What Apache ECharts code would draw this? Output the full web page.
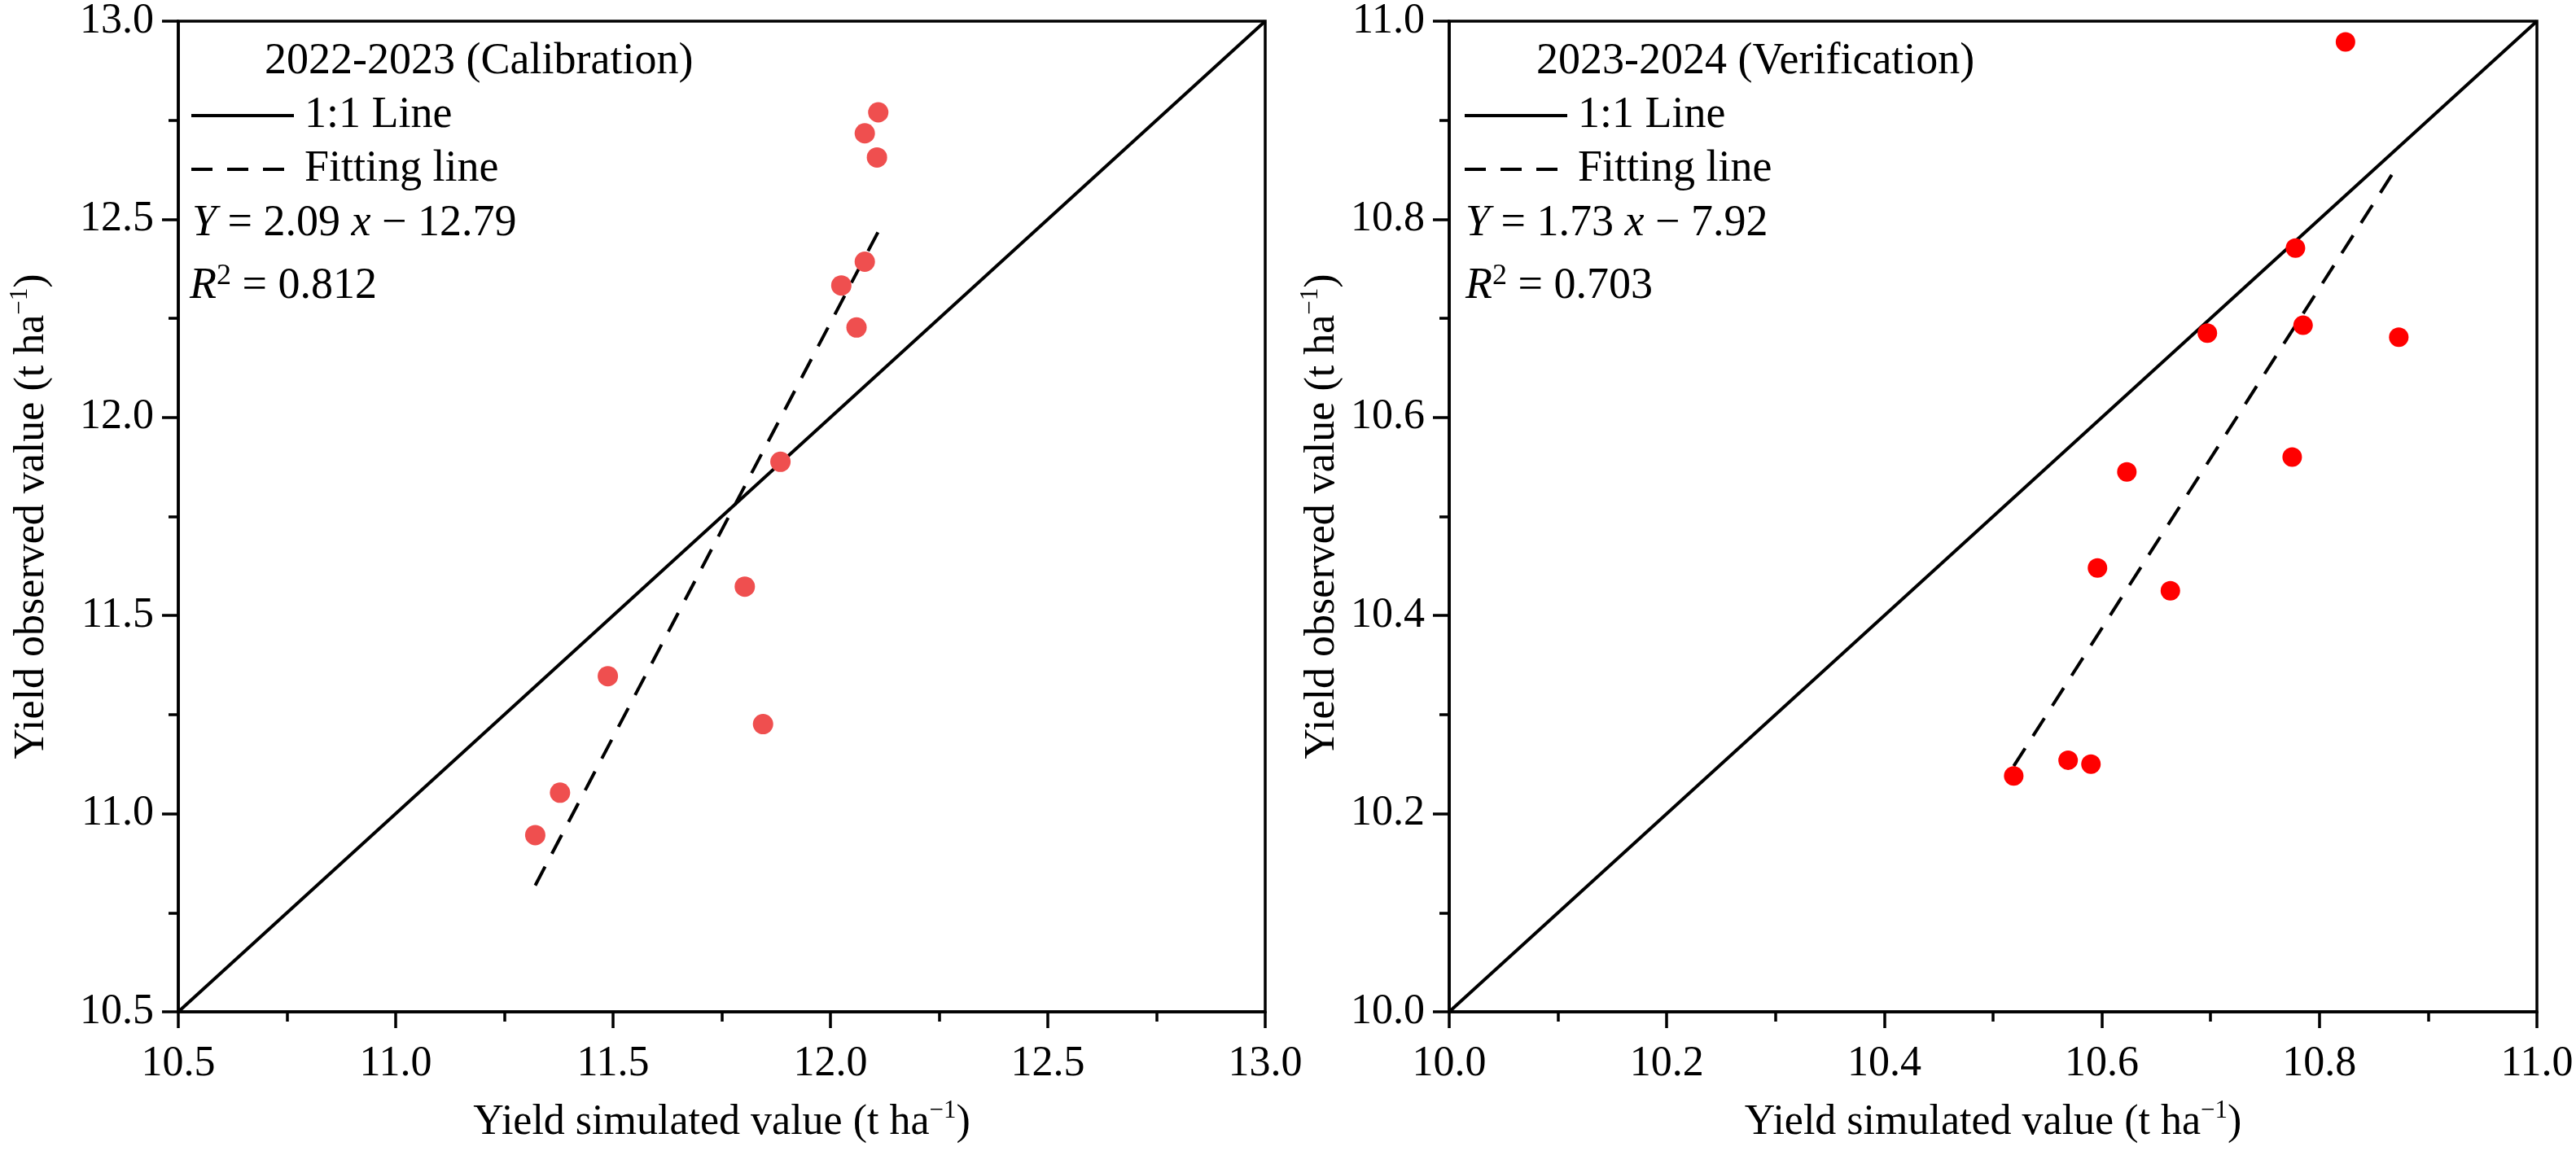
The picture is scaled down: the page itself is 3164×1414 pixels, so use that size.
<!DOCTYPE html>
<html>
<head>
<meta charset="utf-8">
<script src="https://cdn.jsdelivr.net/npm/echarts@6/dist/echarts.min.js"></script>
<style>
html,body{margin:0;padding:0;background:#fff;}
#chart{width:3164px;height:1414px;}
</style>
</head>
<body>
<div id="chart"></div>
<script>
// ---- data ----
var calSim = [12.110, 12.079, 12.107, 12.079, 12.025, 12.060, 11.885, 11.803, 11.488, 11.845, 11.378, 11.321];
var calObs = [12.770, 12.717, 12.656, 12.393, 12.333, 12.227, 11.888, 11.573, 11.347, 11.226, 11.053, 10.946];
var verSim = [10.824, 10.778, 10.697, 10.785, 10.873, 10.775, 10.623, 10.596, 10.663, 10.569, 10.590, 10.519];
var verObs = [10.979, 10.771, 10.685, 10.693, 10.681, 10.560, 10.545, 10.448, 10.425, 10.254, 10.250, 10.238];
var calFitX = [11.321, 12.113];
var calFitY = [10.819, 12.475];
var verFitX = [10.519, 10.869];
var verFitY = [10.248, 10.849];
var calRange = [10.5, 13.0];
var verRange = [10.0, 11.0];
var calTicks = 0.5;
var verTicks = 0.2;
var panelTitles = ['2022-2023 (Calibration)', '2023-2024 (Verification)'];
var equations = ['{i|Y} = 2.09 {i|x} \u2212 12.79', '{i|Y} = 1.73 {i|x} \u2212 7.92'];
var r2Values = ['0.812', '0.703'];
var legendNames = ['1:1 Line', 'Fitting line'];

function zip(a, b) { return a.map(function (v, i) { return [v, b[i]]; }); }

var FONT = 'Liberation Serif';
var black = '#000';

function axisCommon(range, interval, name, nameGap, isY) {
  return {
    type: 'value',
    min: range[0], max: range[1], interval: interval,
    name: name,
    nameLocation: 'middle',
    nameGap: nameGap,
    nameTextStyle: {
      fontFamily: FONT, fontSize: 52, color: black, lineHeight: 60,
      rich: { sup: { fontFamily: FONT, fontSize: 31, color: black, lineHeight: 60, verticalAlign: 'top', padding: [0,0,14,0] } }
    },
    axisLine: { show: true, onZero: false, lineStyle: { color: black, width: 3.5 } },
    axisTick: { show: true, inside: false, length: 20, lineStyle: { color: black, width: 3.5 } },
    minorTick: { show: true, splitNumber: 2, length: 12, lineStyle: { color: black, width: 3.5 } },
    splitLine: { show: false },
    minorSplitLine: { show: false },
    axisLabel: {
      fontFamily: FONT, fontSize: 52, color: black, margin: isY ? 30 : 38,
      formatter: function (v) { return v.toFixed(1); }
    }
  };
}

var xName = 'Yield simulated value (t ha{sup|\u22121})';
var yName = 'Yield observed value (t ha{sup|\u22121})';

var xAxes = [
  Object.assign(axisCommon(calRange, calTicks, xName, 106, false), { gridIndex: 0 }),
  Object.assign(axisCommon(verRange, verTicks, xName, 106, false), { gridIndex: 1 })
];
var yAxes = [
  Object.assign(axisCommon(calRange, calTicks, yName, 150, true), { gridIndex: 0 }),
  Object.assign(axisCommon(verRange, verTicks, yName, 126, true), { gridIndex: 1 })
];

var richText = {
  i: { fontFamily: FONT, fontSize: 54, fontStyle: 'italic', color: black, lineHeight: 60 },
  sup: { fontFamily: FONT, fontSize: 36, color: black, lineHeight: 60, verticalAlign: 'top', padding: [0,0,16,0] }
};
function textTitle(text, left, top) {
  return {
    text: text, left: left, top: top, padding: 0,
    textStyle: { fontFamily: FONT, fontSize: 54, fontWeight: 'normal', color: black, lineHeight: 60, rich: richText }
  };
}

function legendFor(names, left) {
  return {
    data: names,
    orient: 'vertical', left: left, top: 112, padding: 0,
    itemWidth: 126, itemHeight: 20, itemGap: 6,
    itemStyle: { opacity: 0, borderWidth: 0 },
    lineStyle: { width: 4 },
    formatter: function (n) { return n.trim(); },
    textStyle: { fontFamily: FONT, fontSize: 54, color: black, lineHeight: 60, padding: [0,0,0,8] },
    selectedMode: false
  };
}

var option = {
  backgroundColor: '#fff',
  animation: false,
  grid: [
    { left: 219, right: 1610, top: 20, bottom: 154, show: true, borderColor: black, borderWidth: 3.5, backgroundColor: 'transparent' },
    { left: 1780, right: 48, top: 20, bottom: 154, show: true, borderColor: black, borderWidth: 3.5, backgroundColor: 'transparent' }
  ],
  xAxis: xAxes,
  yAxis: yAxes,
  title: [
    textTitle(panelTitles[0], 325, 46),
    textTitle(equations[0], 236, 245),
    textTitle('{i|R}{sup|2} = ' + r2Values[0], 233, 322),
    textTitle(panelTitles[1], 1887, 46),
    textTitle(equations[1], 1800, 245),
    textTitle('{i|R}{sup|2} = ' + r2Values[1], 1800, 322)
  ],
  legend: [
    legendFor([legendNames[0], legendNames[1]], 233),
    legendFor([legendNames[0] + ' ', legendNames[1] + ' '], 1797)
  ],
  series: [
    {
      name: legendNames[0], type: 'line', xAxisIndex: 0, yAxisIndex: 0,
      data: zip(calRange, calRange), symbol: 'none', silent: true,
      lineStyle: { color: black, width: 4 }, itemStyle: { color: black }
    },
    {
      name: legendNames[1], type: 'line', xAxisIndex: 0, yAxisIndex: 0,
      data: zip(calFitX, calFitY), symbol: 'none', silent: true,
      lineStyle: { color: black, width: 4, type: [26, 18] }, itemStyle: { color: black }
    },
    {
      name: 'cal', type: 'scatter', xAxisIndex: 0, yAxisIndex: 0,
      data: zip(calSim, calObs), symbol: 'circle', symbolSize: 25,
      itemStyle: { color: '#EF4F4F', opacity: 1 }, z: 5
    },
    {
      name: legendNames[0] + ' ', type: 'line', xAxisIndex: 1, yAxisIndex: 1,
      data: zip(verRange, verRange), symbol: 'none', silent: true,
      lineStyle: { color: black, width: 4 }, itemStyle: { color: black }
    },
    {
      name: legendNames[1] + ' ', type: 'line', xAxisIndex: 1, yAxisIndex: 1,
      data: zip(verFitX, verFitY), symbol: 'none', silent: true,
      lineStyle: { color: black, width: 4, type: [26, 18] }, itemStyle: { color: black }
    },
    {
      name: 'ver', type: 'scatter', xAxisIndex: 1, yAxisIndex: 1,
      data: zip(verSim, verObs), symbol: 'circle', symbolSize: 24,
      itemStyle: { color: '#FF0000', opacity: 1 }, z: 5
    }
  ]
};

var chart = echarts.init(document.getElementById('chart'), null, { renderer: 'canvas' });
chart.setOption(option);
</script>
</body>
</html>
